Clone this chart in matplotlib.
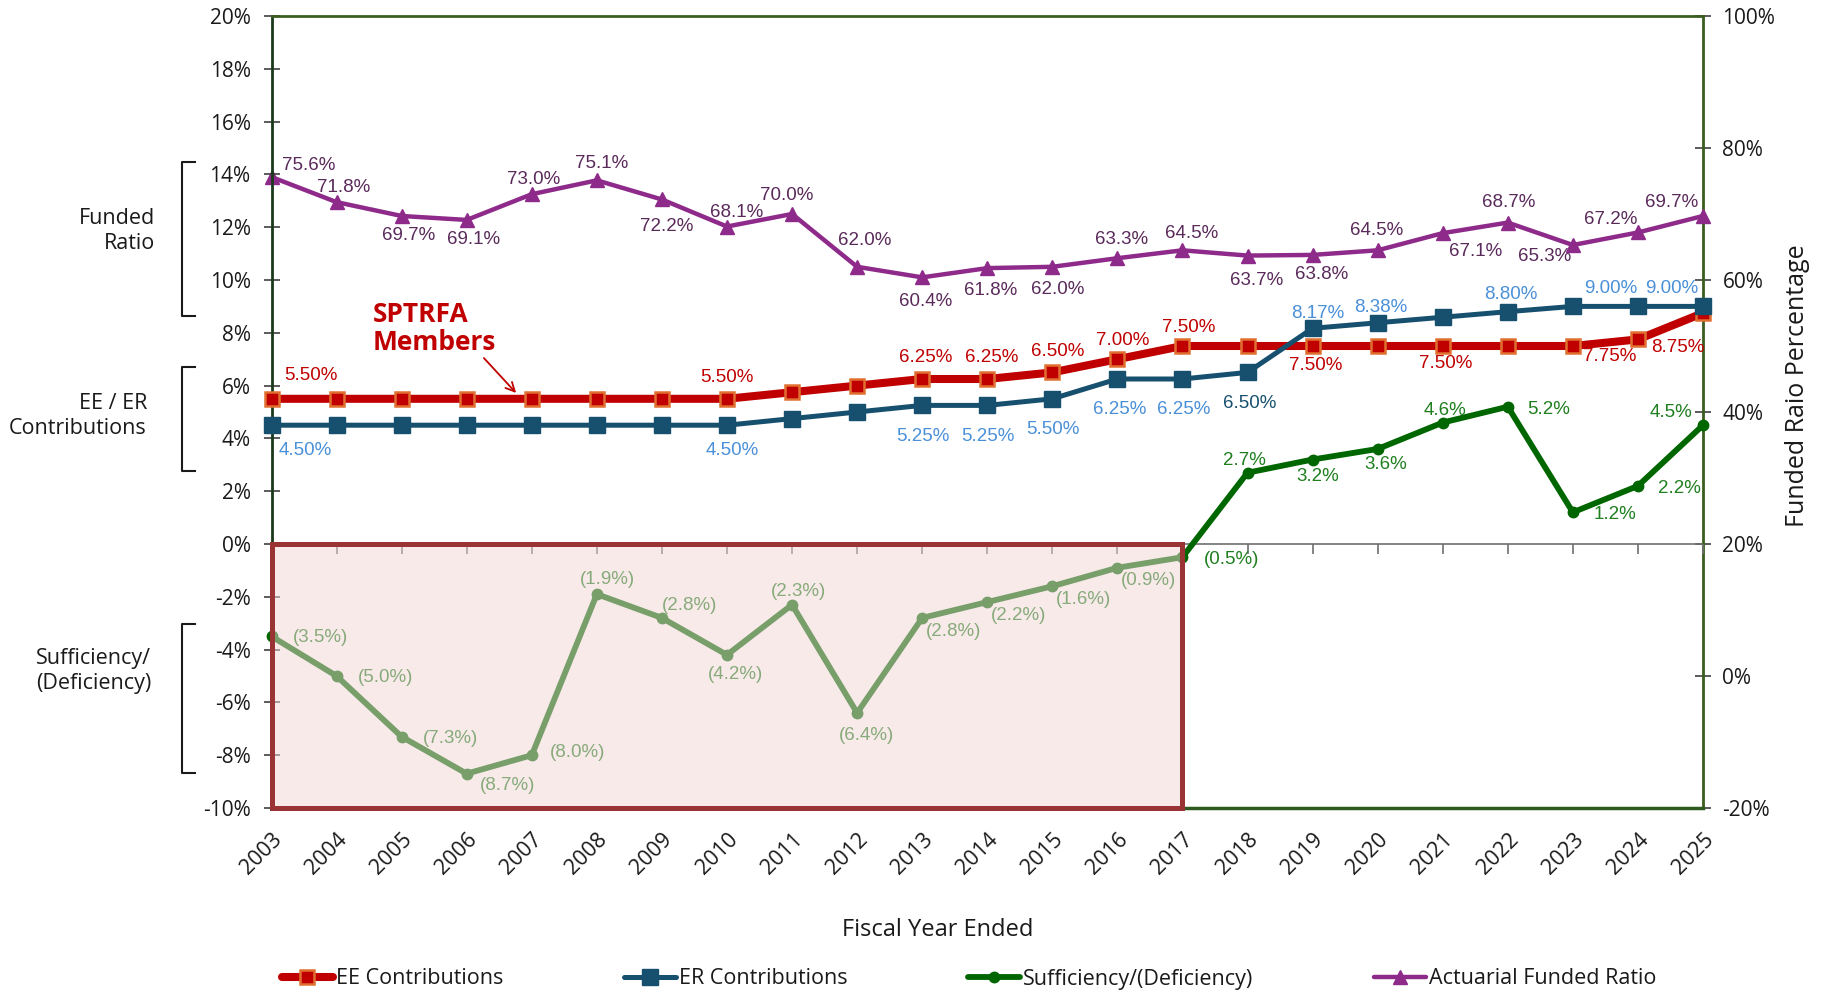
import matplotlib
matplotlib.use("Agg")
import matplotlib.pyplot as plt
from matplotlib.patches import Rectangle
from matplotlib.lines import Line2D
from matplotlib.ticker import FuncFormatter

plt.rcParams['font.family'] = ['Open Sans', 'DejaVu Sans']

# ---------------- data ----------------
years = [2003, 2004, 2005, 2006, 2007, 2008, 2009, 2010, 2011, 2012, 2013, 2014,
         2015, 2016, 2017, 2018, 2019, 2020, 2021, 2022, 2023, 2024, 2025]
ee_rate = [5.50, 5.50, 5.50, 5.50, 5.50, 5.50, 5.50, 5.50, 5.75, 6.00, 6.25, 6.25,
           6.50, 7.00, 7.50, 7.50, 7.50, 7.50, 7.50, 7.50, 7.50, 7.75, 8.75]
er_rate = [4.50, 4.50, 4.50, 4.50, 4.50, 4.50, 4.50, 4.50, 4.75, 5.00, 5.25, 5.25,
           5.50, 6.25, 6.25, 6.50, 8.17, 8.38, 8.59, 8.80, 9.00, 9.00, 9.00]
sufficiency = [-3.5, -5.0, -7.3, -8.7, -8.0, -1.9, -2.8, -4.2, -2.3, -6.4, -2.8, -2.2,
               -1.6, -0.9, -0.5, 2.7, 3.2, 3.6, 4.6, 5.2, 1.2, 2.2, 4.5]
funded_ratio = [75.6, 71.8, 69.7, 69.1, 73.0, 75.1, 72.2, 68.1, 70.0, 62.0, 60.4, 61.8,
                62.0, 63.3, 64.5, 63.7, 63.8, 64.5, 67.1, 68.7, 65.3, 67.2, 69.7]

ee_label_years = [2003, 2010, 2013, 2014, 2015, 2016, 2017, 2019, 2021, 2024, 2025]
er_label_years = [2003, 2010, 2013, 2014, 2015, 2016, 2017, 2018, 2019, 2020, 2022, 2024, 2025]

series_names = ["EE Contributions", "ER Contributions", "Sufficiency/(Deficiency)",
                "Actuarial Funded Ratio"]

# ---------------- label offsets (pixels: right, down) ----------------
ee_offsets = [(39, -23), (0, -21), (4, -21), (4, -21), (5, -21), (5, -19), (6, -19),
              (3, 20), (3, 17), (-28, 17), (-25, 35)]
er_offsets = [(34, 25), (5, 25), (1, 31), (1, 31), (1, 31), (2, 31), (1, 31), (2, 31),
              (5, -15), (3, -15), (3, -17), (-27, -18), (-31, -18)]
suff_offsets = [(49, 1), (49, 2), (49, 2), (41, 12), (46, -3), (11, -15), (28, -12),
                (9, 20), (6, -13), (9, 23), (31, 14), (31, 13), (31, 13), (31, 13),
                (49, 2), (-3, -12), (5, 17), (8, 16), (2, -12), (41, 3), (42, 2),
                (42, 3), (-32, -13)]
funded_offsets = [(37, -12), (7, -15), (7, 20), (7, 20), (2, -15), (5, -17), (5, 27),
                  (10, -14), (-5, -19), (8, -26), (3, 24), (3, 22), (5, 23), (4, -19),
                  (9, -17), (9, 25), (9, 20), (-1, -20), (33, 18), (1, -20), (-28, 11),
                  (-27, -13), (-31, -13)]

# ---------------- colours ----------------
C_EE = '#c00000'
C_EE_EDGE = '#e07030'
C_ER = '#17506e'
C_ER_LAB = '#4a90d9'
C_SUF = '#006600'
C_SUF_LAB = '#1f7f1f'
C_FR = '#8e2a8a'
C_FR_LAB = '#5a2a5a'
LAB_FONT = 'Liberation Sans'
LAB_SIZE = 13.5

W, H = 1825, 993
fig = plt.figure(figsize=(W / 100, H / 100), dpi=100)
ax_l, ax_r, ax_t, ax_b = 271.5, 1703, 16, 808
ax = fig.add_axes([ax_l / W, 1 - ax_b / H, (ax_r - ax_l) / W, (ax_b - ax_t) / H])
ax2 = ax.twinx()

ax.set_xlim(years[0], years[-1])
ax.set_ylim(-10, 20)
ax2.set_ylim(-20, 100)
ax.set_yticks(range(-10, 21, 2))
ax2.set_yticks(range(-20, 101, 20))
pct = FuncFormatter(lambda v, p: f"{v:.0f}%")
ax.yaxis.set_major_formatter(pct)
ax2.yaxis.set_major_formatter(pct)

# zero line with downward ticks
ax.axhline(0, color='#6f6f6f', lw=1.2, zorder=1)
ax.plot(years, [0] * len(years), ls='none', marker=3, ms=7, mew=1.2,
        color='#6f6f6f', zorder=1, clip_on=False)

# ---------------- series ----------------
l_ee, = ax.plot(years, ee_rate, color=C_EE, lw=5.8, marker='s', ms=10.5,
                mfc=C_EE, mec=C_EE_EDGE, mew=1.8, zorder=4, clip_on=False,
                solid_capstyle='round', solid_joinstyle='round')
l_er, = ax.plot(years, er_rate, color=C_ER, lw=3.6, marker='s', ms=11,
                mfc=C_ER, mec=C_ER, zorder=5, clip_on=False,
                solid_capstyle='round', solid_joinstyle='round')
l_suf, = ax.plot(years, sufficiency, color=C_SUF, lw=4.2, marker='o', ms=7.5,
                 mfc=C_SUF, mec=C_SUF, zorder=4, clip_on=False,
                 solid_capstyle='round', solid_joinstyle='round')
l_fr, = ax2.plot(years, funded_ratio, color=C_FR, lw=3.2, marker='^', ms=10,
                 mfc=C_FR, mec=C_FR, zorder=4, clip_on=False,
                 solid_capstyle='round', solid_joinstyle='round')

K = 0.72  # px -> pt at 100 dpi


def lab(axis, x, y, text, off, color):
    axis.annotate(text, (x, y), xytext=(off[0] * K, -off[1] * K),
                  textcoords='offset points', ha='center', va='center',
                  fontsize=LAB_SIZE, family=LAB_FONT, color=color, zorder=6)


for yr, off in zip(ee_label_years, ee_offsets):
    v = ee_rate[years.index(yr)]
    lab(ax, yr, v, f"{v:.2f}%", off, C_EE)
for yr, off in zip(er_label_years, er_offsets):
    v = er_rate[years.index(yr)]
    lab(ax, yr, v, f"{v:.2f}%", off, C_ER if yr == 2018 else C_ER_LAB)
for yr, v, off in zip(years, sufficiency, suff_offsets):
    t = f"({abs(v):.1f}%)" if v < 0 else f"{v:.1f}%"
    lab(ax, yr, v, t, off, C_SUF_LAB)
for yr, v, off in zip(years, funded_ratio, funded_offsets):
    lab(ax2, yr, v, f"{v:.1f}%", off, C_FR_LAB)

# deficiency box
neg_years = [y for y, s in zip(years, sufficiency) if s < 0]
rect = Rectangle((neg_years[0], -10), neg_years[-1] - neg_years[0], 10,
                 facecolor=(240 / 255, 214 / 255, 213 / 255, 0.50),
                 edgecolor='#9a3434', lw=3.6, zorder=8, clip_on=False)
ax.add_patch(rect)

# ---------------- axes styling ----------------
for s in ['left', 'right', 'top', 'bottom']:
    ax2.spines[s].set_visible(False)
ax2.spines['right'].set_visible(True)
ax2.spines['right'].set_color('#3b5e1f')
ax2.spines['right'].set_linewidth(2)
ax.spines['right'].set_visible(False)
ax.spines['left'].set_color('#1b3a1b')
ax.spines['left'].set_linewidth(2)
ax.spines['top'].set_color('#3b5e1f')
ax.spines['top'].set_linewidth(2)
ax.spines['bottom'].set_color('#2f5a1f')
ax.spines['bottom'].set_linewidth(2.5)

ax.tick_params(axis='y', direction='inout', length=12, width=1.2, color='#404040',
               pad=9, labelsize=15, labelcolor='#1a1a1a')
ax2.tick_params(axis='y', direction='inout', length=12, width=1.2, color='#404040',
                pad=8, labelsize=15, labelcolor='#1a1a1a')
ax.set_xticks(years)
ax.set_xticklabels([str(y) for y in years], rotation=45, ha='right', va='top',
                   rotation_mode='anchor')
ax.tick_params(axis='x', length=0, pad=15, labelsize=15.5, labelcolor='#1a1a1a')
ax.set_zorder(ax2.get_zorder() + 1)
ax.patch.set_visible(False)

# ---------------- texts ----------------
fig.text(938 / W, 1 - 930 / H, "Fiscal Year Ended", ha='center', va='center',
         fontsize=17, color='#1a1a1a')
fig.text(1798 / W, 1 - 386 / H, "Funded Raio Percentage", ha='center', va='center',
         rotation=90, fontsize=18, color='#1a1a1a')

fig.text(373 / W, 1 - 301 / H, "SPTRFA\nMembers", ha='left', va='top', fontsize=19,
         fontweight='bold', color=C_EE, linespacing=1.05)
fig.add_artist(matplotlib.patches.FancyArrowPatch(
    (482 / W, 1 - 356 / H), (518 / W, 1 - 395 / H), transform=fig.transFigure,
    arrowstyle='->', mutation_scale=16, color=C_EE, lw=1.3))

brackets = [("Funded\nRatio", 155, 231, 162, 316),
            ("EE / ER\nContributions", 147, 416, 367, 471),
            ("Sufficiency/\n(Deficiency)", 151, 671, 624, 773)]
for txt, tx, ty, y0, y1 in brackets:
    fig.text(tx / W, 1 - ty / H, txt, ha='right', va='center', fontsize=15.5,
             color='#1a1a1a', linespacing=1.2, multialignment='right')
    xs = [195 / W, 182 / W, 182 / W, 195 / W]
    ys = [1 - y0 / H, 1 - y0 / H, 1 - y1 / H, 1 - y1 / H]
    fig.add_artist(Line2D(xs, ys, transform=fig.transFigure, color='#1a1a1a', lw=1.5))

# ---------------- legend ----------------
fig.legend([l_ee, l_er, l_suf, l_fr], series_names, loc='center',
           bbox_to_anchor=(969 / W, 1 - 979 / H), ncol=4, frameon=False,
           fontsize=15.5, handlelength=2.4, handletextpad=0.15, columnspacing=5.6,
           borderaxespad=0, labelcolor='#1a1a1a')

fig.savefig('out.png', dpi=100)
